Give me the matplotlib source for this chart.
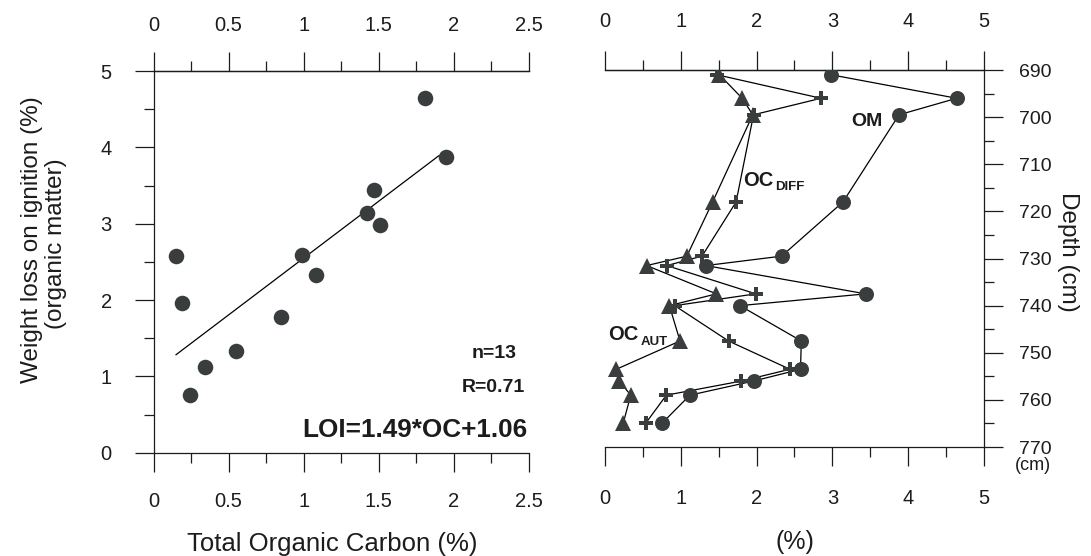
import matplotlib
matplotlib.use("Agg")
import matplotlib.pyplot as plt
import numpy as np
from matplotlib.ticker import MultipleLocator

plt.rcParams['font.family'] = ['Liberation Sans', 'DejaVu Sans']

# Core samples, ordered by depth (cm)
depth = [691, 696, 699.5, 718, 729.5, 731.5, 737.5, 740, 747.5, 753.5, 756, 759, 765]
# Total organic carbon = autochthonous OC (%)
toc = [1.51, 1.81, 1.95, 1.42, 1.08, 0.55, 1.47, 0.85, 0.99, 0.15, 0.19, 0.34, 0.24]
# Weight loss on ignition = organic matter (%)
om = [2.98, 4.64, 3.88, 3.14, 2.33, 1.33, 3.44, 1.78, 2.59, 2.58, 1.96, 1.12, 0.75]
# Diffuse OC (%)
oc_diff = [1.475, 2.85, 1.96, 1.73, 1.28, 0.815, 1.99, 0.92, 1.63, 2.44, 1.80, 0.81, 0.535]

# Regression of LOI on OC
slope, intercept = 1.49, 1.06
r_value = 0.71
fit_range = [0.15, 1.90]

left_xticks = [0, 0.5, 1, 1.5, 2, 2.5]
left_xticklabels = ['0', '0.5', '1', '1.5', '2', '2.5']
left_yticks = [0, 1, 2, 3, 4, 5]
right_xticks = [0, 1, 2, 3, 4, 5]
depth_ticks = [690, 700, 710, 720, 730, 740, 750, 760, 770]

mark = '#3a3d3e'
ink = '#1c1c1c'
lw = 0.9
tick_fs = 14.5

fig = plt.figure(figsize=(10.91, 5.56), dpi=100)

# ---------------- left panel: LOI vs TOC ----------------
ax1 = fig.add_axes([0.1407, 0.1858, 0.3442, 0.6865])
ax1.set_xlim(0, 2.5)
ax1.set_ylim(0, 5)
ax1.spines['right'].set_visible(False)
for s in ('left', 'top', 'bottom'):
    ax1.spines[s].set_linewidth(lw)
    ax1.spines[s].set_color(ink)

ax1.set_xticks(left_xticks)
ax1.set_xticklabels(left_xticklabels)
ax1.xaxis.set_minor_locator(MultipleLocator(0.25))
ax1.set_yticks(left_yticks)
ax1.yaxis.set_minor_locator(MultipleLocator(0.5))
ax1.tick_params(which='both', direction='out', width=lw, color=ink, labelcolor=ink)
ax1.tick_params(which='major', length=13.5)
ax1.tick_params(which='minor', length=7.5)
ax1.tick_params(axis='x', which='major', labelsize=tick_fs, pad=15, top=False)
ax1.tick_params(axis='x', which='minor', top=False)
ax1.tick_params(axis='y', which='major', labelsize=tick_fs, pad=16.5)

top1 = ax1.secondary_xaxis('top')
top1.set_xticks(left_xticks)
top1.set_xticklabels(left_xticklabels)
top1.xaxis.set_minor_locator(MultipleLocator(0.25))
top1.spines['top'].set_linewidth(lw)
top1.tick_params(which='both', direction='out', width=lw, color=ink, labelcolor=ink)
top1.tick_params(which='major', length=13.5, labelsize=tick_fs, pad=12.5)
top1.tick_params(which='minor', length=7.5)

ax1.scatter(toc, om, s=11.2 ** 2, color=mark, zorder=3, linewidths=0)
fx = np.array(fit_range)
ax1.plot(fx, slope * fx + intercept, color='black', lw=lw, zorder=2)

ax1.text(2.418, 1.235, f'n={len(toc)}', ha='right', va='baseline',
         fontsize=14, fontweight='bold', color=ink)
ax1.text(2.473, 0.797, f'R={r_value:.2f}', ha='right', va='baseline',
         fontsize=14, fontweight='bold', color=ink)
ax1.text(2.487, 0.207, f'LOI={slope:.2f}*OC+{intercept:.2f}', ha='right',
         va='baseline', fontsize=18.8, fontweight='bold', color=ink)

fig.text(332 / 1091, 1 - 544 / 556, 'Total Organic Carbon (%)', ha='center',
         va='center', fontsize=18.5, color=ink)
fig.text(32 / 1091, 1 - 240 / 556, 'Weight loss on ignition (%)', ha='center',
         va='center', rotation=90, fontsize=17.5, color=ink)
fig.text(56 / 1091, 1 - 244 / 556, '(organic matter)', ha='center',
         va='center', rotation=90, fontsize=17.5, color=ink)

# ---------------- right panel: depth profiles ----------------
ax2 = fig.add_axes([0.5545, 0.1960, 0.3474, 0.6781])
ax2.set_xlim(0, 5)
ax2.set_ylim(770, 690)
ax2.spines['left'].set_visible(False)
for s in ('right', 'top', 'bottom'):
    ax2.spines[s].set_linewidth(lw)
    ax2.spines[s].set_color(ink)

ax2.set_xticks(right_xticks)
ax2.xaxis.set_minor_locator(MultipleLocator(0.5))
ax2.set_yticks(depth_ticks)
ax2.yaxis.set_minor_locator(MultipleLocator(5))
ax2.yaxis.set_ticks_position('right')
ax2.tick_params(which='both', direction='out', width=lw, color=ink, labelcolor=ink)
ax2.tick_params(which='major', length=13.5)
ax2.tick_params(which='minor', length=7.5)
ax2.tick_params(axis='x', which='major', labelsize=tick_fs, pad=16.5, top=False)
ax2.tick_params(axis='x', which='minor', top=False)
ax2.tick_params(axis='y', which='both', left=False, right=True,
                labelleft=False, labelright=True)
ax2.tick_params(axis='y', which='major', labelsize=14, pad=11.5)

top2 = ax2.secondary_xaxis('top')
top2.set_xticks(right_xticks)
top2.xaxis.set_minor_locator(MultipleLocator(0.5))
top2.spines['top'].set_linewidth(lw)
top2.tick_params(which='both', direction='out', width=lw, color=ink, labelcolor=ink)
top2.tick_params(which='major', length=13.5, labelsize=tick_fs, pad=14.5)
top2.tick_params(which='minor', length=7.5)

ax2.plot(om, depth, color='black', lw=lw, zorder=2)
ax2.plot(oc_diff, depth, color='black', lw=lw, zorder=2)
ax2.plot(toc, depth, color='black', lw=lw, zorder=2)
ax2.plot(om, depth, ls='none', marker='o', ms=10.8, color=mark, mew=0, zorder=3)
ax2.plot(toc, depth, ls='none', marker='^', ms=11, color=mark, mew=0, zorder=3)
ax2.plot(oc_diff, depth, ls='none', marker='P', ms=10, color=mark, mew=0, zorder=4)

ax2.text(3.46, 701.0, 'OM', ha='center', va='center', fontsize=14,
         fontweight='bold', color=ink)
ax2.text(1.817, 714.6, 'OC', ha='left', va='baseline', fontsize=14.5,
         fontweight='bold', color=ink)
ax2.text(2.25, 715.5, 'DIFF', ha='left', va='baseline', fontsize=9.5,
         fontweight='bold', color=ink)
ax2.text(0.036, 747.3, 'OC', ha='left', va='baseline', fontsize=14.5,
         fontweight='bold', color=ink)
ax2.text(0.47, 748.4, 'AUT', ha='left', va='baseline', fontsize=9.5,
         fontweight='bold', color=ink)

fig.text(795 / 1091, 1 - 542 / 556, '(%)', ha='center', va='center',
         fontsize=18, color=ink)
fig.text(1068 / 1091, 1 - 252 / 556, 'Depth (cm)', ha='center', va='center',
         rotation=270, fontsize=17.5, color=ink)
fig.text(1033 / 1091, 1 - 466 / 556, '(cm)', ha='center', va='center',
         fontsize=13, color=ink)

fig.savefig('out.png', dpi=100, facecolor='white')
